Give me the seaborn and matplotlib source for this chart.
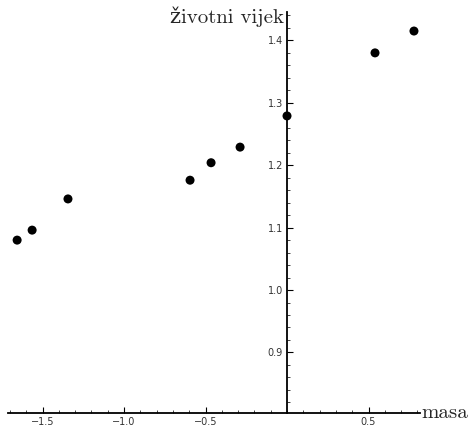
import matplotlib
matplotlib.use("Agg")
import matplotlib.pyplot as plt
import seaborn as sns
from matplotlib.ticker import MultipleLocator, FixedLocator, FixedFormatter

# Data
masa = [-1.656, -1.564, -1.344, -0.595, -0.466, -0.288, 0.0, 0.540, 0.779]
zivotni_vijek = [1.080, 1.096, 1.146, 1.176, 1.204, 1.229, 1.279, 1.380, 1.415]

x_ticks = [-1.5, -1.0, -0.5, 0.5]
x_tick_labels = ["\u22121.5", "\u22121.0", "\u22120.5", "0.5"]
y_ticks = [0.9, 1.0, 1.1, 1.2, 1.3, 1.4]
y_tick_labels = ["0.9", "1.0", "1.1", "1.2", "1.3", "1.4"]

sns.set_style("white")
plt.rcParams['font.family'] = ['DejaVu Sans']

fig = plt.figure(figsize=(4.69, 4.32), dpi=100)
ax = fig.add_axes([8 / 469, 19 / 432, 412 / 469, 401 / 432])

sns.scatterplot(x=masa, y=zivotni_vijek, ax=ax, color="black", s=42,
                edgecolor="none", zorder=5, clip_on=False)

ax.set_xlim(-1.712, 0.816)
ax.set_ylim(0.803, 1.4455)

# axes crossing like the original: vertical at x=0, horizontal at y=0.803
ax.spines['left'].set_position(('data', 0))
ax.spines['bottom'].set_position(('data', 0.803))
ax.spines['top'].set_visible(False)
ax.spines['right'].set_visible(False)
for s in ['left', 'bottom']:
    ax.spines[s].set_linewidth(1.3)
    ax.spines[s].set_color("black")

ax.xaxis.set_major_locator(FixedLocator(x_ticks))
ax.xaxis.set_major_formatter(FixedFormatter(x_tick_labels))
ax.xaxis.set_minor_locator(MultipleLocator(0.1))
ax.yaxis.set_major_locator(FixedLocator(y_ticks))
ax.yaxis.set_major_formatter(FixedFormatter(y_tick_labels))
ax.yaxis.set_minor_locator(MultipleLocator(0.02))

ax.tick_params(axis='both', which='major', direction='in', length=4, width=0.8,
               labelsize=7, colors="black", pad=3)
ax.tick_params(axis='both', which='minor', direction='in', length=2.2, width=0.6)
ax.tick_params(axis='y', which='both', left=True)
ax.tick_params(axis='x', which='both', bottom=True)
for lab in ax.get_xticklabels() + ax.get_yticklabels():
    lab.set_color("#333333")

serif = ["cmr10", "DejaVu Serif"]
ax.text(-0.018, 1.4375, "životni vijek", ha="right", va="center",
        family=serif, fontsize=15, clip_on=False)
ax.text(0.822, 0.803, "masa", ha="left", va="center",
        family=serif, fontsize=15, clip_on=False)

ax.grid(False)
fig.savefig("out.png", dpi=100)
